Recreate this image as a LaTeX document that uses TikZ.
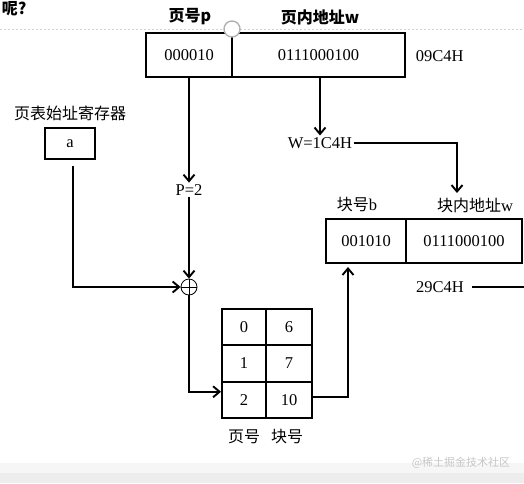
\documentclass[tikz,border=0pt]{standalone}
\usepackage{fontspec}
\setmainfont{Liberation Serif}
\newfontfamily\cjk{Noto Sans CJK SC}
\usetikzlibrary{arrows.meta}

\tikzset{
  field/.style={draw, rectangle, minimum height=44pt, inner sep=0pt, font=\fontsize{16.5}{18}\selectfont},
  cell/.style={draw, rectangle, minimum width=45pt, minimum height=36.3pt, inner sep=0pt, font=\fontsize{16.5}{18}\selectfont},
  txt/.style={inner sep=1pt, font=\fontsize{16.5}{18}\selectfont},
  zhtxt/.style={inner sep=1pt, font=\cjk\fontsize{16}{18}\selectfont},
}

\begin{document}
\begin{tikzpicture}[x=1pt, y=-1pt, line width=1.9pt, >={Straight Barb[length=6.5pt,width=11pt]}]
    \useasboundingbox (0,0) rectangle (524,483);

    % page frame of the screenshot
    \draw[line width=0.6pt, gray!35, dash pattern=on 2pt off 2pt] (0,29) -- (524,29);
    \fill[gray!7] (0,463) rectangle (524,483);
    \fill[gray!14] (0,473) rectangle (524,483);
    \node[anchor=north west, inner sep=0pt, font=\cjk\bfseries\fontsize{16}{18}\selectfont] (ne) at (1,1) {呢?};
    \node[inner sep=0pt, gray!45, font=\cjk\fontsize{11}{12}\selectfont] (mark) at (461,463) {@稀土掘金技术社区};

    % logical address
    \node[field, minimum width=86pt] (pno) at (189,55) {000010};
    \node[field, minimum width=173pt] (off) at (318.5,55) {0111000100};
    \node[txt, anchor=west] (laddr) at (414,56) {09C4H};
    \node[zhtxt, font=\cjk\bfseries\fontsize{16}{18}\selectfont] (pnol) at (190,17) {页号\textbf{p}};
    \node[zhtxt, font=\cjk\bfseries\fontsize{16}{18}\selectfont] (offl) at (320,17) {页内地址\textbf{w}};
    \draw[line width=1.4pt, gray!60, fill=white] (232,29) circle (8);

    % page table register
    \node[zhtxt] (regl) at (70,113) {页表始址寄存器};
    \node[field, minimum width=50pt, minimum height=31pt] (reg) at (70,143.5) {a};

    \node[txt] (pval) at (189,190) {P=2};
    \node[txt] (wval) at (320,143) {W=1C4H};
    \node[circle, draw, line width=0.8pt, minimum size=16pt, inner sep=0pt] (sum) at (189,287) {};
    \draw[line width=0.8pt] (sum.north) -- (sum.south) (sum.west) -- (sum.east);

    % page table
    \foreach \p/\b [count=\r] in {0/6, 1/7, 2/10} {
        \node[cell, minimum width=44pt] (c\r1) at (244,290.85+36.3*\r) {\p};
        \node[cell, minimum width=46pt] (c\r2) at (289,290.85+36.3*\r) {\b};
    }
    \node[zhtxt] (tpl) at (244,437) {页号};
    \node[zhtxt] (tbl) at (287,437) {块号};

    % physical address
    \node[field, minimum width=80pt] (bno) at (366,241) {001010};
    \node[field, minimum width=116pt] (boff) at (464,241) {0111000100};
    \node[zhtxt] (bnol) at (357,205) {块号\fontsize{16.5}{18}\selectfont\rmfamily b};
    \node[zhtxt] (boffl) at (475,205) {块内地址\fontsize{16.5}{18}\selectfont\rmfamily w};
    \node[txt] (paddr) at (440,287) {29C4H};

    \coordinate (wturn) at (457,143);
    \coordinate (wend) at (457,193);
    \coordinate (bend) at (348,267);
    \coordinate (rend) at (524,287);

    \draw[->] (pno.south) -- (pval.north);
    \draw[->] (pval.south) -- (sum.north);
    \draw[->] (off.south -| wval.north) -- (wval.north);
    \draw[->] (wval.east) -- (wturn) -- (wend);
    \draw[->] ([xshift=3pt, yshift=-6pt]reg.south) |- (sum.west);
    \draw[->] (sum.south) |- ([yshift=8pt]c31.west);
    \draw[->] ([yshift=3pt]c32.east) -| (bend);
    \draw (paddr.east) ++(6,0) -- (rend);
\end{tikzpicture}
\end{document}
